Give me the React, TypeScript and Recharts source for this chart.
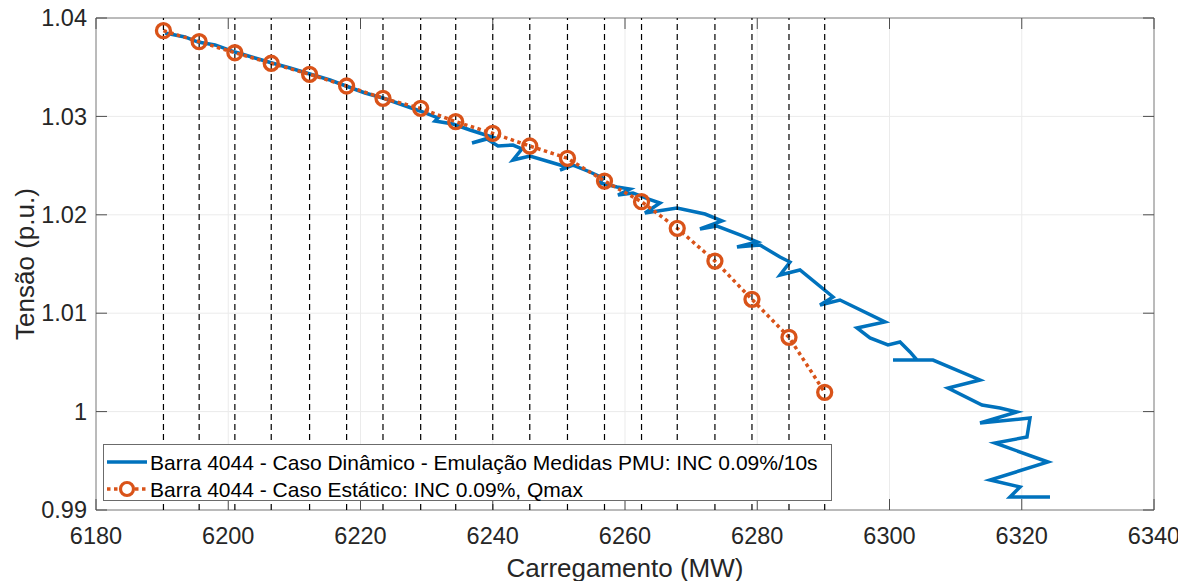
import { LineChart, Line, XAxis, YAxis, CartesianGrid, ReferenceLine, ReferenceArea, Legend } from 'recharts'

const FONT = '"Liberation Sans", Arial, Helvetica, sans-serif'
const BLUE = '#0072BD'
const ORANGE = '#D95319'
const PLOT_W = 1058
const PLOT_H = 492
const TICK_LEN = 11

const xTicks = [6180, 6200, 6220, 6240, 6260, 6280, 6300, 6320, 6340]
const yTicks = [0.99, 1.0, 1.01, 1.02, 1.03, 1.04]

// caso estatico (pontos com marcador)
const staticLoad = [
  6190.2, 6195.6, 6201.0, 6206.5, 6212.3, 6217.9, 6223.4, 6229.1, 6234.4, 6240.0,
  6245.6, 6251.3, 6256.9, 6262.5, 6267.9, 6273.6, 6279.2, 6284.8, 6290.2,
]
const staticVolt = [
  1.03871, 1.03759, 1.03647, 1.0354, 1.03428, 1.03309, 1.03184, 1.03082, 1.02946, 1.02828,
  1.02699, 1.02574, 1.02343, 1.02133, 1.01863, 1.0153, 1.01141, 1.00755, 1.00196,
]

// caso dinamico (emulacao PMU)
const dynLoad = [
  6190.43, 6193.46, 6195.43, 6198.0, 6201.02, 6204.05, 6206.62, 6209.34, 6212.36, 6215.39,
  6217.81, 6220.68, 6223.4, 6225.97, 6229.0, 6231.72, 6231.27, 6233.99, 6236.56, 6239.89,
  6236.86, 6239.13, 6240.79, 6243.06, 6244.42, 6243.06, 6245.63, 6248.66, 6251.23, 6250.17,
  6252.14, 6254.71, 6256.67, 6256.22, 6258.79, 6260.76, 6258.94, 6261.21, 6263.48, 6265.29,
  6263.02, 6267.86, 6272.1, 6274.67, 6271.34, 6273.91, 6277.39, 6279.96, 6276.94, 6280.42,
  6283.44, 6284.95, 6283.44, 6286.46, 6291.46, 6289.49, 6292.51, 6299.32, 6295.08, 6297.05,
  6299.77, 6301.59, 6303.1, 6304.16, 6300.53, 6306.58, 6313.69, 6308.85, 6313.99, 6316.71,
  6319.28, 6313.69, 6321.25, 6320.79, 6315.95, 6323.97, 6315.2, 6319.74, 6318.22, 6324.27,
]
const dynVolt = [
  1.03848, 1.03807, 1.03756, 1.03726, 1.03654, 1.03593, 1.03543, 1.03492, 1.03431, 1.0337,
  1.03309, 1.03238, 1.03187, 1.03126, 1.03055, 1.02984, 1.02953, 1.02923, 1.02862, 1.02791,
  1.0273, 1.0277, 1.02699, 1.02709, 1.02669, 1.02557, 1.02598, 1.02537, 1.02486, 1.02455,
  1.02506, 1.02435, 1.02374, 1.02323, 1.02283, 1.02262, 1.02201, 1.02222, 1.02161, 1.0212,
  1.02018, 1.02069, 1.02008, 1.01937, 1.01856, 1.01886, 1.01795, 1.01724, 1.01673, 1.01693,
  1.01571, 1.0152, 1.01388, 1.01439, 1.01165, 1.01083, 1.01134, 1.00911, 1.0085, 1.00748,
  1.00677, 1.00707, 1.00606, 1.00524, 1.00524, 1.00524, 1.00321, 1.0024, 1.00067, 1.00037,
  0.99996, 0.99884, 0.99935, 0.99742, 0.99681, 0.99488, 0.99305, 0.99234, 0.99132, 0.99132,
]

const staticData = staticLoad.map((x, i) => ({ x, v: staticVolt[i] }))
const dynData = dynLoad.map((x, i) => ({ x, v: dynVolt[i] }))

const fmtY = (v: number) => String(Number(v.toFixed(2)))

function XTick(props: any) {
  const { x, y, payload } = props
  const axisY = y - 17
  return (
    <g>
      <line x1={x} x2={x} y1={axisY} y2={axisY - TICK_LEN} stroke="#4d4d4d" />
      <line x1={x} x2={x} y1={axisY - PLOT_H} y2={axisY - PLOT_H + TICK_LEN} stroke="#4d4d4d" />
      <text x={x} y={y} dy="0.71em" textAnchor="middle" fill="#262626" fontSize={23.5} fontFamily={FONT}>
        {payload.value}
      </text>
    </g>
  )
}

function YTick(props: any) {
  const { x, y, payload } = props
  const axisX = x + 9
  return (
    <g>
      <line x1={axisX} x2={axisX + TICK_LEN} y1={y} y2={y} stroke="#4d4d4d" />
      <line x1={axisX + PLOT_W} x2={axisX + PLOT_W - TICK_LEN} y1={y} y2={y} stroke="#4d4d4d" />
      <text x={x} y={y} dy="0.35em" textAnchor="end" fill="#262626" fontSize={23.5} fontFamily={FONT}>
        {fmtY(payload.value)}
      </text>
    </g>
  )
}

function LegendBox() {
  return (
    <div
      style={{
        position: 'relative',
        width: 729,
        height: 57,
        boxSizing: 'border-box',
        background: '#fff',
        border: '1px solid #6b6b6b',
        fontFamily: FONT,
        fontSize: 21,
        color: '#000',
      }}
    >
      <svg width={48} height={55} style={{ position: 'absolute', left: 0, top: 0 }}>
        <line x1={3} x2={43} y1={17} y2={17} stroke={BLUE} strokeWidth={3.5} />
        <line x1={3} x2={43} y1={44} y2={44} stroke={ORANGE} strokeWidth={3.5} strokeDasharray="3.5 3.5" />
        <circle cx={23} cy={44} r={6.5} fill="#fff" stroke={ORANGE} strokeWidth={3.2} />
      </svg>
      <div style={{ position: 'absolute', left: 46, top: 17, transform: 'translateY(-50%)', lineHeight: 1, whiteSpace: 'nowrap' }}>
        Barra 4044 - Caso Dinâmico - Emulação Medidas PMU: INC 0.09%/10s
      </div>
      <div style={{ position: 'absolute', left: 46, top: 44, transform: 'translateY(-50%)', lineHeight: 1, whiteSpace: 'nowrap' }}>
        Barra 4044 - Caso Estático: INC 0.09%, Qmax
      </div>
    </div>
  )
}

export default function App() {
  return (
    <div style={{ width: 1170, height: 573, background: '#fff' }}>
      <LineChart width={1170} height={573} margin={{ top: 10, right: 24, bottom: 0, left: 0 }}>
        <CartesianGrid stroke="#ebebeb" />
        <XAxis
          type="number"
          dataKey="x"
          domain={[6180, 6340]}
          ticks={xTicks}
          allowDataOverflow
          height={71}
          axisLine={false}
          tickLine={false}
          tickSize={0}
          tickMargin={17}
          tick={<XTick />}
          interval={0}
          label={() => (
            <text x={617} y={569} textAnchor="middle" fontSize={26} fill="#262626" fontFamily={FONT}>
              Carregamento (MW)
            </text>
          )}
        />
        <YAxis
          type="number"
          dataKey="v"
          domain={[0.99, 1.04]}
          ticks={yTicks}
          allowDataOverflow
          width={88}
          axisLine={false}
          tickLine={false}
          tickSize={0}
          tickMargin={9}
          tick={<YTick />}
          interval={0}
          label={() => (
            <text
              x={17}
              y={256}
              transform="rotate(-90 17 256)"
              textAnchor="middle"
              dominantBaseline="central"
              fontSize={26}
              fill="#262626"
              fontFamily={FONT}
            >
              Tensão (p.u.)
            </text>
          )}
        />
        <Line
          data={dynData}
          dataKey="v"
          type="linear"
          stroke={BLUE}
          strokeWidth={3.5}
          dot={false}
          activeDot={false}
          isAnimationActive={false}
          name="Barra 4044 - Caso Dinâmico - Emulação Medidas PMU: INC 0.09%/10s"
        />
        <Line
          data={staticData}
          dataKey="v"
          type="linear"
          stroke={ORANGE}
          strokeWidth={3.5}
          strokeDasharray="3.5 3.5"
          dot={{ r: 7, fill: 'none', stroke: ORANGE, strokeWidth: 3.3, strokeDasharray: '' }}
          activeDot={false}
          isAnimationActive={false}
          name="Barra 4044 - Caso Estático: INC 0.09%, Qmax"
        />
        {staticLoad.map((v) => (
          <ReferenceLine key={v} x={v} stroke="#000" strokeWidth={1.2} strokeDasharray="6 4" />
        ))}
        <ReferenceArea x1={6180} x2={6340} y1={0.99} y2={1.04} fill="none" stroke="#808080" strokeWidth={1} />
        <Legend
          layout="vertical"
          align="center"
          verticalAlign="middle"
          content={<LegendBox />}
          wrapperStyle={{ left: 95, top: 436, width: 729, height: 57, transform: 'none' }}
        />
      </LineChart>
    </div>
  )
}
